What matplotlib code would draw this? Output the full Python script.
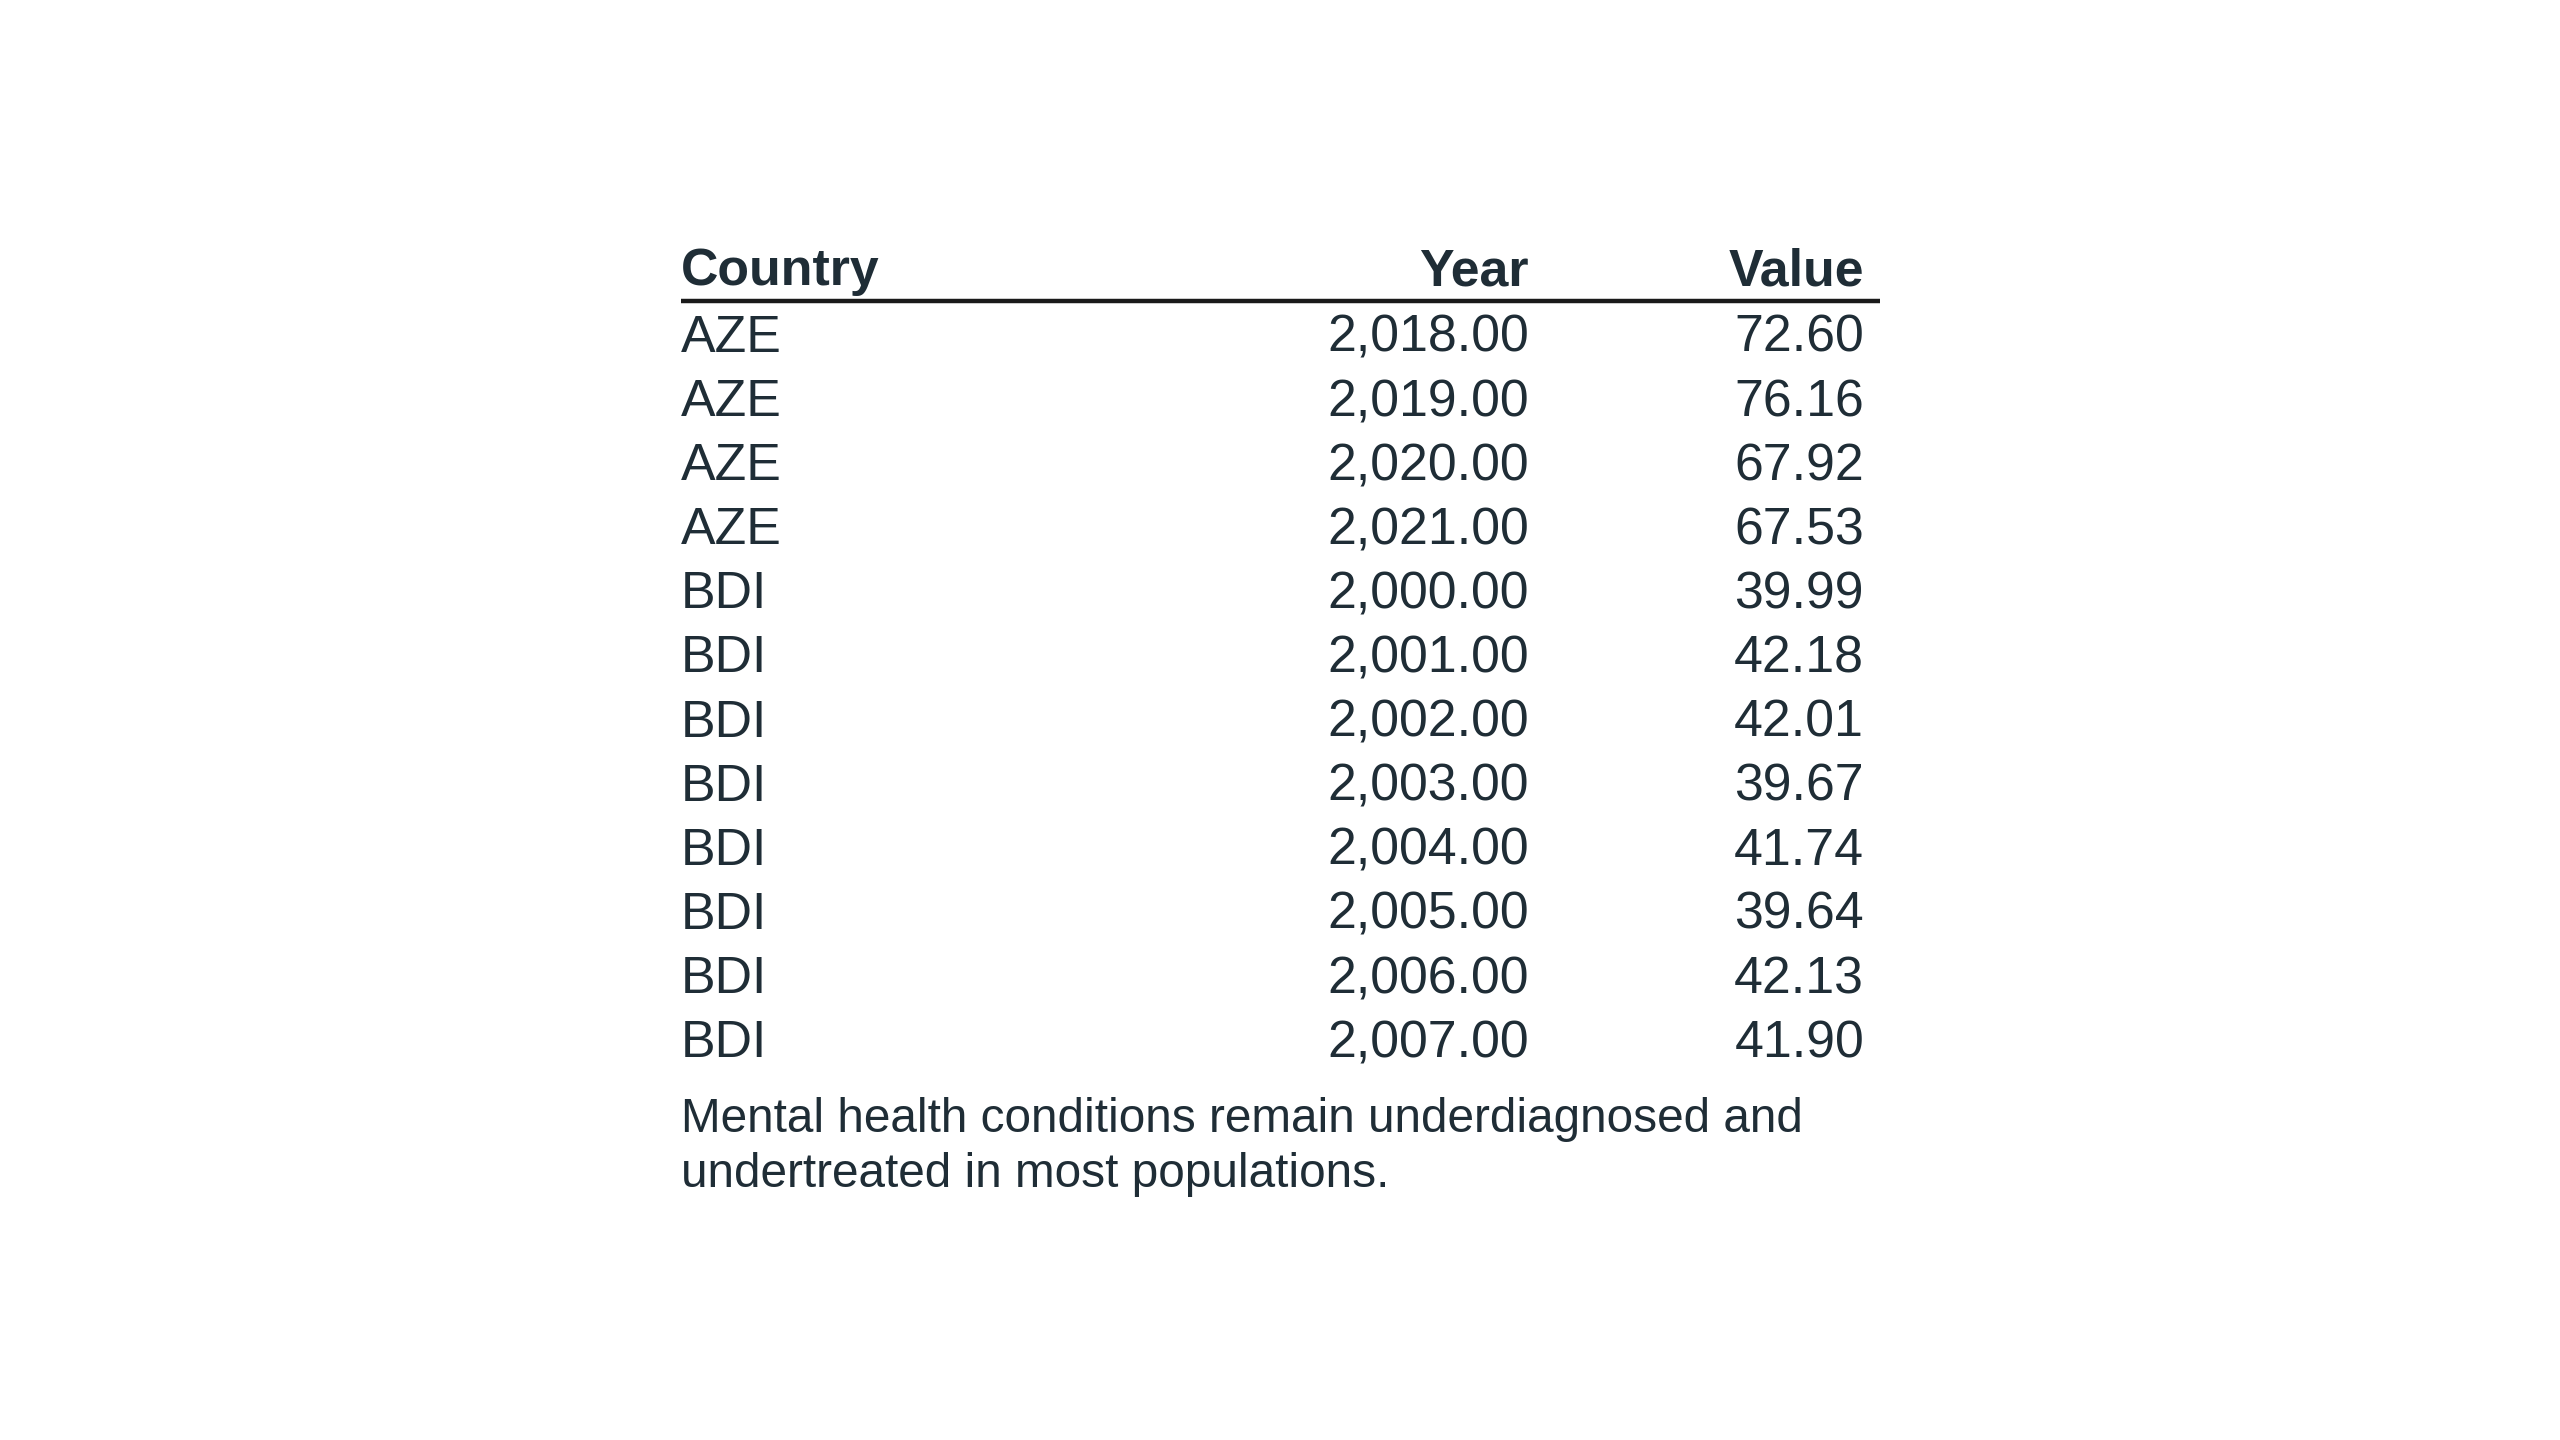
import matplotlib
matplotlib.use("Agg")
import matplotlib.pyplot as plt

countries = ["AZE", "AZE", "AZE", "AZE", "BDI", "BDI", "BDI", "BDI", "BDI", "BDI", "BDI", "BDI"]
years = [2018, 2019, 2020, 2021, 2000, 2001, 2002, 2003, 2004, 2005, 2006, 2007]
values = [72.60, 76.16, 67.92, 67.53, 39.99, 42.18, 42.01, 39.67, 41.74, 39.64, 42.13, 41.90]
headers = ["Country", "Year", "Value"]
caption_lines = ["Mental health conditions remain underdiagnosed and",
                 "undertreated in most populations."]

W, H = 2560, 1440
DPI = 200
fig = plt.figure(figsize=(W / DPI, H / DPI), dpi=DPI)
fig.patch.set_facecolor("white")
ax = fig.add_axes([0, 0, 1, 1])
ax.set_xlim(0, W)
ax.set_ylim(H, 0)
ax.axis("off")

FONT = "Liberation Sans"
TXT = "#1f2d36"
FS = 18.7

x_country = 681
x_year = 1529
x_value = 1864
x_line_end = 1880

header_base = 285
row0_base = 352
row_step = 64.1

ax.text(x_country, header_base, headers[0], ha="left", va="baseline",
        fontsize=FS, fontweight="bold", color=TXT, family=FONT)
ax.text(x_year, header_base, headers[1], ha="right", va="baseline",
        fontsize=FS, fontweight="bold", color=TXT, family=FONT)
ax.text(x_value, header_base, headers[2], ha="right", va="baseline",
        fontsize=FS, fontweight="bold", color=TXT, family=FONT)

ax.plot([x_country, x_line_end], [301, 301], color="#1a1a1a", lw=1.6,
        solid_capstyle="butt")

for i, (c, y, v) in enumerate(zip(countries, years, values)):
    yb = row0_base + i * row_step
    ax.text(x_country, yb, c, ha="left", va="baseline", fontsize=FS,
            color=TXT, family=FONT)
    ax.text(x_year, yb, f"{y:,.2f}", ha="right", va="baseline", fontsize=FS,
            color=TXT, family=FONT)
    ax.text(x_value, yb, f"{v:,.2f}", ha="right", va="baseline", fontsize=FS,
            color=TXT, family=FONT)

for j, line in enumerate(caption_lines):
    ax.text(x_country, 1132 + j * 55, line, ha="left", va="baseline",
            fontsize=17.2, color=TXT, family=FONT)

fig.savefig("out.png", dpi=DPI, facecolor="white")
